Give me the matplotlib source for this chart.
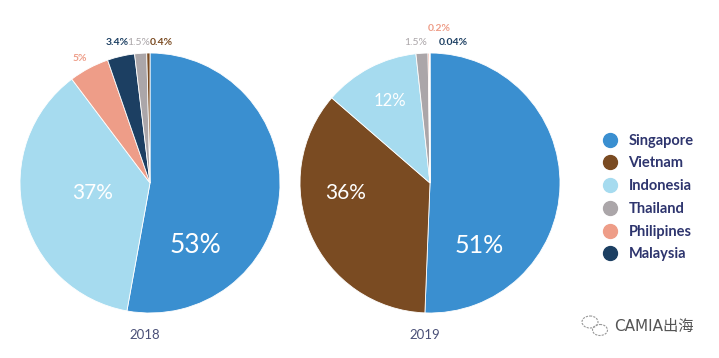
import numpy as np
import matplotlib.pyplot as plt
from matplotlib.lines import Line2D
from matplotlib.patches import Ellipse

plt.rcParams['font.family'] = ['Lato', 'DejaVu Sans']

countries = ['Singapore', 'Vietnam', 'Indonesia', 'Thailand', 'Philipines', 'Malaysia']
colors = {'Singapore': '#3a8fd0', 'Vietnam': '#7a4b22', 'Indonesia': '#a6dbef',
          'Thailand': '#aba6a9', 'Philipines': '#ee9d88', 'Malaysia': '#1c3f62'}

# clockwise order from 12 o'clock
order_2018 = ['Singapore', 'Indonesia', 'Philipines', 'Malaysia', 'Thailand', 'Vietnam']
share_2018 = [53, 37, 5, 3.4, 1.5, 0.4]
labels_2018 = ['53%', '37%', '5%', '3.4%', '1.5%', '0.4%']

order_2019 = ['Singapore', 'Vietnam', 'Indonesia', 'Thailand', 'Philipines', 'Malaysia']
share_2019 = [51, 36, 12, 1.5, 0.2, 0.04]
labels_2019 = ['51%', '36%', '12%', '1.5%', '0.2%', '0.04%']

# label placement (radius units) and style
pos_2018 = [(0.35, -0.48), (-0.44, -0.08), (-0.54, 0.96), (-0.25, 1.08), (-0.09, 1.08), (0.09, 1.08)]
size_2018 = [19, 15, 7.5, 7.5, 7.5, 7.5]
pos_2019 = [(0.38, -0.48), (-0.65, -0.08), (-0.31, 0.63), (-0.11, 1.08), (0.07, 1.19), (0.18, 1.08)]
size_2019 = [18, 15, 12, 7.5, 7.5, 7.5]

fig = plt.figure(figsize=(7.19, 3.58), dpi=100)
W, H = 719, 358


def pie_axes(cx, cy, r):
    return fig.add_axes([(cx - r) / W, (H - cy - r) / H, 2 * r / W, 2 * r / H])


def draw(ax, order, share, labels, pos, sizes, year):
    ax.pie(share, colors=[colors[c] for c in order], startangle=90, counterclock=False,
           wedgeprops=dict(edgecolor='white', linewidth=0.6))
    ax.set_xlim(-1, 1)
    ax.set_ylim(-1, 1)
    ax.set_aspect('equal')
    for c, lab, (x, y), s in zip(order, labels, pos, sizes):
        big = s > 10
        col = 'white' if big else colors[c]
        wt = 'normal' if (big or c == 'Thailand') else 'bold'
        ax.text(x, y, lab, ha='center', va='center', fontsize=s, color=col, fontweight=wt)
    ax.text(-0.04, -1.17, year, ha='center', va='center', fontsize=9.5, color='#4a5078')


ax1 = pie_axes(150, 183, 130)
draw(ax1, order_2018, share_2018, labels_2018, pos_2018, size_2018, '2018')
ax2 = pie_axes(430, 183, 130)
draw(ax2, order_2019, share_2019, labels_2019, pos_2019, size_2019, '2019')

handles = [Line2D([], [], marker='o', linestyle='', markersize=10,
                  markerfacecolor=colors[c], markeredgecolor=colors[c]) for c in countries]
leg = fig.legend(handles, countries, loc='upper left', bbox_to_anchor=(584 / W, 1 - 122 / H),
                 frameon=False, handletextpad=0.25, labelspacing=0.6, fontsize=10.5,
                 borderpad=0.3)
for t in leg.get_texts():
    t.set_color('#2e356e')
    t.set_fontweight('bold')

# watermark
fig.text(614 / W, 1 - 326 / H, 'CAMIA出海', fontsize=11, color='#555555', va='center', ha='left',
         family=['DejaVu Sans', 'Noto Sans CJK SC'])
wax = fig.add_axes([0.0, 0.0, 1.0, 1.0], facecolor='none')
wax.set_xlim(0, W)
wax.set_ylim(H, 0)
wax.axis('off')
wax.add_patch(Ellipse((590, 322), 16, 12, fill=False, edgecolor='#999999', lw=0.8, ls=(0, (2, 1))))
wax.add_patch(Ellipse((600, 330), 15, 11, fill=False, edgecolor='#999999', lw=0.8, ls=(0, (2, 1))))

fig.savefig('out.png', dpi=100)
